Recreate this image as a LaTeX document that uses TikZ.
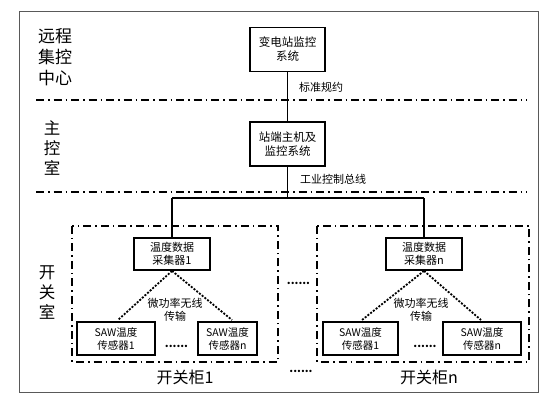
\documentclass[tikz,border=0pt]{standalone}
\usepackage{fontspec}
\setmainfont{Noto Sans CJK SC}
\begin{document}
\begin{tikzpicture}[x=1pt,y=-1pt,
  box/.style={draw,line width=1.8pt,minimum width=75pt,minimum height=44pt,align=center,font=\fontsize{11.5}{14}\selectfont,inner sep=1pt},
  cbox/.style={draw,line width=1.8pt,minimum width=76pt,minimum height=32pt,align=center,font=\fontsize{11}{13}\selectfont,inner sep=1pt},
  sbox/.style={draw,line width=1.6pt,minimum width=76pt,minimum height=33pt,align=center,font=\fontsize{10.5}{13}\selectfont,inner sep=1pt},
  dd/.style={line width=1.1pt,dash pattern=on 8pt off 4pt on 1.5pt off 4pt},
  wl/.style={line width=1.8pt,dash pattern=on 2pt off 1.5pt},
  big/.style={font=\fontsize{16.5}{20}\selectfont,align=center},
  lab/.style={font=\fontsize{11}{13}\selectfont,anchor=west,inner sep=0pt},
  dots/.style={font=\bfseries\fontsize{11}{13}\selectfont,inner sep=0pt},
  conn/.style={line width=1.6pt}]
\useasboundingbox (0,0) rectangle (558,401);
\draw[line width=0.9pt,black!65] (19,11) rectangle (538,392);
% separators
\draw[dd] (36,100) -- (527,100);
\draw[dd] (36,192) -- (527,192);
% side labels
\node[big,font=\fontsize{17}{21}\selectfont] (l1) at (55,57) {远程\\集控\\中心};
\node[big] (l2) at (52,148) {主\\控\\室};
\node[big] (l3) at (47,293) {开\\关\\室};
% top boxes
\node[box] (b1) at (287.5,49.5) {变电站监控\\系统};
\node[box] (b2) at (287.5,144) {站端主机及\\监控系统};
\node[lab] (t1) at (299,87) {标准规约};
\node[lab] (t2) at (300,179) {工业控制总线};
% bus
\coordinate (bus) at (287.5,198);
\coordinate (busL) at (172,198);
\coordinate (busR) at (424,198);
\draw[conn] (b1) -- (b2);
\draw[conn] (b2) -- (bus);
\draw[conn] (busL) -- (busR);
% cabinets
\draw[dd] (72,226) rectangle (278,362);
\draw[dd] (317,226) rectangle (529,362);
% collectors
\node[cbox] (c1) at (172,254) {温度数据\\采集器1};
\node[cbox] (cn) at (424,254) {温度数据\\采集器n};
\draw[conn] (busL) -- (c1);
\draw[conn] (busR) -- (cn);
% sensors
\node[sbox,minimum width=78pt] (s11) at (116,338.5) {SAW温度\\传感器1};
\node[sbox,minimum width=59pt] (s1n) at (227.5,338.5) {SAW温度\\传感器n};
\node[sbox,minimum width=75pt] (sn1) at (360.5,338.5) {SAW温度\\传感器1};
\node[sbox,minimum width=78pt] (snn) at (482,338.5) {SAW温度\\传感器n};
\coordinate (w11) at (118,320);
\coordinate (w1n) at (232,320);
\coordinate (wn1) at (362,320);
\coordinate (wnn) at (481,320);
\draw[wl] (c1.south) -- (w11);
\draw[wl] (c1.south) -- (w1n);
\draw[wl] (cn.south) -- (wn1);
\draw[wl] (cn.south) -- (wnn);
\node[font=\fontsize{11}{13}\selectfont,align=center,inner sep=0pt] (m1) at (175,310) {微功率无线\\传输};
\node[font=\fontsize{11}{13}\selectfont,align=center,inner sep=0pt] (mn) at (421,310) {微功率无线\\传输};
\node[dots] (d1) at (176.5,346) {......};
\node[dots] (dn) at (425,346) {......};
\node[dots] (dm) at (298.5,283) {......};
\node[dots] (db) at (301,371) {......};
\node[font=\fontsize{16}{20}\selectfont,inner sep=0pt] (k1) at (185,377) {开关柜1};
\node[font=\fontsize{16}{20}\selectfont,inner sep=0pt] (kn) at (429,377) {开关柜n};
\end{tikzpicture}
\end{document}
